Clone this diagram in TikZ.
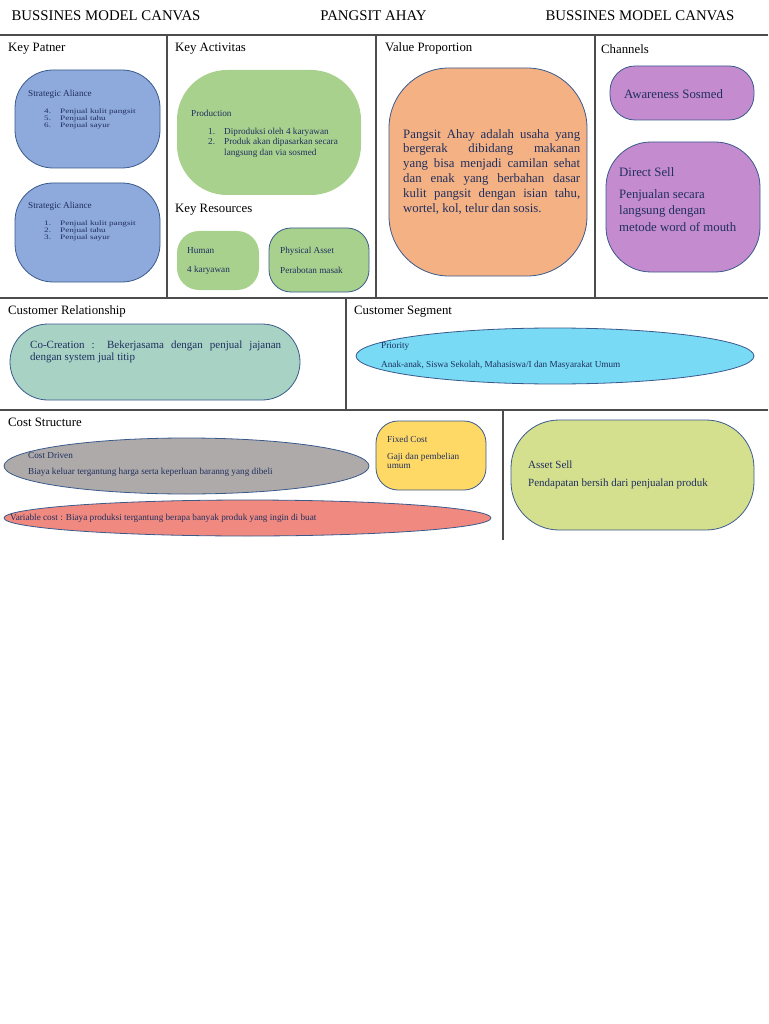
\documentclass[tikz,border=0pt]{standalone}
\usepackage{fontspec}
\setmainfont{Liberation Serif}
\newfontfamily\squatfont[FakeStretch=1.35]{Liberation Serif}
\usetikzlibrary{shapes.geometric}
\definecolor{kpblue}{HTML}{8EA9DB}
\definecolor{kagreen}{HTML}{A9D18E}
\definecolor{vporange}{HTML}{F4B183}
\definecolor{chpurple}{HTML}{C48BCF}
\definecolor{crteal}{HTML}{A8D3C4}
\definecolor{cscyan}{HTML}{78DAF4}
\definecolor{cdgray}{HTML}{AEAAAA}
\definecolor{fcyellow}{HTML}{FFD966}
\definecolor{vcred}{HTML}{F08A80}
\definecolor{aslime}{HTML}{D5E08E}
\definecolor{edge}{HTML}{3A5A8C}
\definecolor{ink}{HTML}{1F2F5F}
\newcommand{\itemno}[1]{\makebox[16pt][l]{#1}}
\begin{document}
\begin{tikzpicture}[x=1pt, y=-1pt,
    blob/.style={draw=edge, line width=0.8pt, inner sep=0pt},
    grid/.style={draw=black!70, line width=1.3pt},
    head/.style={anchor=west, inner sep=0pt, font=\fontsize{12.8}{14}\selectfont},
    txt/.style={anchor=west, inner sep=0pt, text=ink, font=\fontsize{9.2}{10.5}\selectfont},
    squat/.style={txt, font=\squatfont\fontsize{6.8}{7}\selectfont},
    mid/.style={anchor=west, inner sep=0pt, text=ink, font=\fontsize{11}{12}\selectfont},
    big/.style={anchor=west, inner sep=0pt, text=ink, font=\fontsize{12.8}{14.9}\selectfont}]
    \useasboundingbox (0,0) rectangle (768,1024);

    % Title row
    \node[inner sep=0pt, font=\fontsize{14.8}{16}\selectfont] (t1) at (106,16) {BUSSINES MODEL CANVAS};
    \node[inner sep=0pt, font=\fontsize{14.8}{16}\selectfont] (t2) at (373.5,16) {PANGSIT AHAY};
    \node[inner sep=0pt, font=\fontsize{14.8}{16}\selectfont] (t3) at (640,16) {BUSSINES MODEL CANVAS};

    % Frame lines of the canvas
    \draw[grid] (0,35) -- (768,35);
    \draw[grid] (0,298) -- (768,298);
    \draw[grid] (0,410) -- (768,410);
    \draw[grid] (167,35) -- (167,298);
    \draw[grid] (376,35) -- (376,298);
    \draw[grid] (595,35) -- (595,298);
    \draw[grid] (346,298) -- (346,410);
    \draw[grid] (503,410) -- (503,540);

    % Section headings
    \node[head] (hkp) at (8,49) {Key Patner};
    \node[head] (hka) at (175,49) {Key Activitas};
    \node[head] (hvp) at (385,48) {Value Proportion};
    \node[head] (hch) at (601,49) {Channels};
    \node[head] (hkr) at (175,210) {Key Resources};
    \node[head] (hcr) at (8,311) {Customer Relationship};
    \node[head] (hcs) at (354,312) {Customer Segment};
    \node[head] (hcost) at (8,422) {Cost Structure};

    % Key Patner
    \node[blob, fill=kpblue, minimum width=145, minimum height=98, rounded corners=38] (kp1) at (87.5,119) {};
    \node[blob, fill=kpblue, minimum width=145, minimum height=99, rounded corners=38] (kp2) at (87.5,232.5) {};
    \node[txt] (kp1a) at (28,94) {Strategic Aliance};
    \node[squat] (kp1b) at (44,111.5) {\itemno{4.}Penjual kulit pangsit};
    \node[squat] (kp1c) at (44,118.5) {\itemno{5.}Penjual tahu};
    \node[squat] (kp1d) at (44,125.5) {\itemno{6.}Penjual sayur};
    \node[txt] (kp2a) at (28,206) {Strategic Aliance};
    \node[squat] (kp2b) at (44,224) {\itemno{1.}Penjual kulit pangsit};
    \node[squat] (kp2c) at (44,231) {\itemno{2.}Penjual tahu};
    \node[squat] (kp2d) at (44,238) {\itemno{3.}Penjual sayur};

    % Key Activitas
    \node[blob, draw=none, fill=kagreen, minimum width=184, minimum height=125, rounded corners=50] (ka) at (269,132.5) {};
    \node[txt] (ka1) at (191,113) {Production};
    \node[txt] (ka2) at (208,132) {\itemno{1.}Diproduksi oleh 4 karyawan};
    \node[txt] (ka3) at (208,142) {\itemno{2.}Produk akan dipasarkan secara};
    \node[txt] (ka4) at (224,153) {langsung dan via sosmed};

    % Key Resources
    \node[blob, draw=none, fill=kagreen, minimum width=82, minimum height=59, rounded corners=22] (krh) at (218,260.5) {};
    \node[blob, fill=kagreen, minimum width=100, minimum height=64, rounded corners=22] (krp) at (319,260) {};
    \node[txt] (krh1) at (187,251) {Human};
    \node[txt] (krh2) at (187,270) {4 karyawan};
    \node[txt] (krp1) at (280,251) {Physical Asset};
    \node[txt] (krp2) at (280,270) {Perabotan masak};

    % Value Proportion
    \node[blob, fill=vporange, minimum width=198, minimum height=208, rounded corners=60] (vp) at (488,172) {};
    \node[big, anchor=north west, text width=177pt, align=justify] (vpt) at (403,129)
        {Pangsit Ahay adalah usaha yang\linebreak bergerak dibidang makanan\linebreak
         yang bisa menjadi camilan sehat\linebreak dan enak yang berbahan dasar\linebreak
         kulit pangsit dengan isian tahu,\linebreak wortel, kol, telur dan sosis.};

    % Channels
    \node[blob, fill=chpurple, minimum width=144, minimum height=54, rounded corners=25] (ch1) at (682,93) {};
    \node[blob, fill=chpurple, minimum width=154, minimum height=130, rounded corners=45] (ch2) at (683,207) {};
    \node[big] (ch1t) at (624,94) {Awareness Sosmed};
    \node[big] (ch2a) at (619,172) {Direct Sell};
    \node[big] (ch2b) at (619,195) {Penjualan secara};
    \node[big] (ch2c) at (619,211) {langsung dengan};
    \node[big] (ch2d) at (619,227) {metode word of mouth};

    % Customer Relationship
    \node[blob, fill=crteal, minimum width=290, minimum height=76, rounded corners=38] (cr) at (155,362) {};
    \node[mid, anchor=north west, text width=251pt, align=justify] (crt) at (30,340.5)
        {Co-Creation : Bekerjasama dengan penjual jajanan\linebreak dengan system jual titip};

    % Customer Segment
    \node[blob, ellipse, fill=cscyan, minimum width=398, minimum height=56] (cs) at (555,356) {};
    \node[txt] (cs1) at (381,346) {Priority};
    \node[txt] (cs2) at (381,365) {Anak-anak, Siswa Sekolah, Mahasiswa/I dan Masyarakat Umum};

    % Cost Structure
    \node[blob, ellipse, fill=cdgray, minimum width=365, minimum height=56] (cd) at (186.5,466) {};
    \node[txt] (cd1) at (28,455) {Cost Driven};
    \node[txt] (cd2) at (28,472) {Biaya keluar tergantung harga serta keperluan baranng yang dibeli};
    \node[blob, fill=fcyellow, minimum width=110, minimum height=69, rounded corners=22] (fc) at (431,455.5) {};
    \node[txt] (fc1) at (387,439) {Fixed Cost};
    \node[txt] (fc2) at (387,457) {Gaji dan pembelian};
    \node[txt] (fc3) at (387,466) {umum};
    \node[blob, ellipse, fill=vcred, minimum width=487, minimum height=36] (vc) at (247.5,518) {};
    \node[txt] (vc1) at (10,518) {Variable cost : Biaya produksi tergantung berapa banyak produk yang ingin di buat};

    % Revenue
    \node[blob, fill=aslime, minimum width=243, minimum height=110, rounded corners=48] (as) at (632.5,475) {};
    \node[mid] (as1) at (528,465) {Asset Sell};
    \node[mid] (as2) at (528,484) {Pendapatan bersih dari penjualan produk};
\end{tikzpicture}
\end{document}
